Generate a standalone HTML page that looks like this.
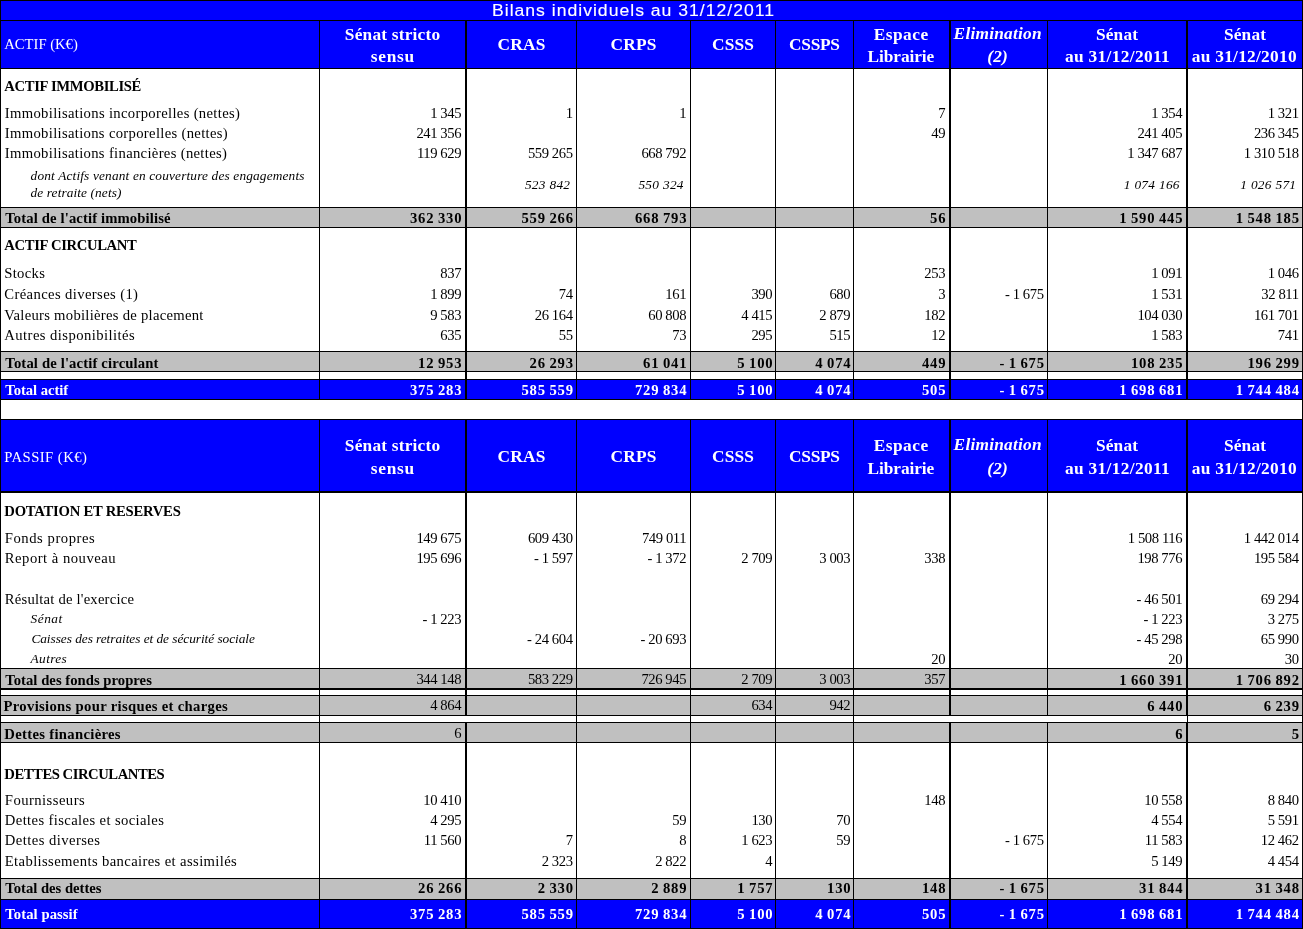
<!DOCTYPE html><html><head><meta charset="utf-8"><title>Bilans individuels au 31/12/2011</title><style>
html,body{margin:0;padding:0;background:#fff}
#p{position:relative;width:1303px;height:929px;overflow:hidden;will-change:transform}
#p div{position:absolute}
#p span{position:absolute;white-space:pre;line-height:1;color:#000}
.n{font-family:"Liberation Serif",serif;font-size:14.67px;font-weight:normal;font-style:normal;letter-spacing:-0.42px}
.nb{font-family:"Liberation Serif",serif;font-size:14.67px;font-weight:bold;font-style:normal;letter-spacing:0.8px;word-spacing:-0.9px}
.ni{font-family:"Liberation Serif",serif;font-size:13.33px;font-weight:normal;font-style:italic;letter-spacing:0.3px}
.l{font-family:"Liberation Serif",serif;font-size:14.67px;font-weight:normal;font-style:normal;letter-spacing:0.29px}
.li{font-family:"Liberation Serif",serif;font-size:13.33px;font-weight:normal;font-style:italic;letter-spacing:0.15px}
.b{font-family:"Liberation Serif",serif;font-size:14.67px;font-weight:bold;font-style:normal;letter-spacing:0.1px}
.sec{font-family:"Liberation Serif",serif;font-size:14.67px;font-weight:bold;font-style:normal;letter-spacing:0.0px}
.h{font-family:"Liberation Serif",serif;font-size:17.33px;font-weight:bold;font-style:normal;letter-spacing:0.2px}
.hi{font-family:"Liberation Serif",serif;font-size:17.33px;font-weight:bold;font-style:italic;letter-spacing:0.2px}
.hl{font-family:"Liberation Serif",serif;font-size:14.67px;font-weight:normal;font-style:normal;letter-spacing:0.0px}
.title{font-family:"Liberation Sans",sans-serif;font-size:16.0px;font-weight:normal;font-style:normal;letter-spacing:0.0px;-webkit-text-stroke:0.12px currentColor}
</style></head><body><div id="p">
<div style="left:0px;top:0px;width:1303px;height:21px;background:#0000ff"></div>
<div style="left:0px;top:20px;width:1303px;height:49px;background:#0000ff"></div>
<div style="left:0px;top:207px;width:1303px;height:21px;background:#c0c0c0"></div>
<div style="left:0px;top:351px;width:1303px;height:21px;background:#c0c0c0"></div>
<div style="left:0px;top:379px;width:1303px;height:21px;background:#0000ff"></div>
<div style="left:0px;top:419px;width:1303px;height:74px;background:#0000ff"></div>
<div style="left:0px;top:668px;width:1303px;height:22px;background:#c0c0c0"></div>
<div style="left:0px;top:695px;width:1303px;height:21px;background:#c0c0c0"></div>
<div style="left:0px;top:722px;width:1303px;height:21px;background:#c0c0c0"></div>
<div style="left:0px;top:878px;width:1303px;height:22px;background:#c0c0c0"></div>
<div style="left:0px;top:899px;width:1303px;height:30px;background:#0000ff"></div>
<div style="left:0px;top:0px;width:1303px;height:1px;background:#000"></div>
<div style="left:0px;top:20px;width:1303px;height:1px;background:#000"></div>
<div style="left:0px;top:68px;width:1303px;height:1px;background:#000"></div>
<div style="left:0px;top:207px;width:1303px;height:1px;background:#000"></div>
<div style="left:0px;top:227px;width:1303px;height:1px;background:#000"></div>
<div style="left:0px;top:351px;width:1303px;height:1px;background:#000"></div>
<div style="left:0px;top:371px;width:1303px;height:1px;background:#000"></div>
<div style="left:0px;top:379px;width:1303px;height:1px;background:#000"></div>
<div style="left:0px;top:399px;width:1303px;height:1px;background:#000"></div>
<div style="left:0px;top:419px;width:1303px;height:1px;background:#000"></div>
<div style="left:0px;top:668px;width:1303px;height:1px;background:#000"></div>
<div style="left:0px;top:695px;width:1303px;height:1px;background:#000"></div>
<div style="left:0px;top:715px;width:1303px;height:1px;background:#000"></div>
<div style="left:0px;top:722px;width:1303px;height:1px;background:#000"></div>
<div style="left:0px;top:742px;width:1303px;height:1px;background:#000"></div>
<div style="left:0px;top:878px;width:1303px;height:1px;background:#000"></div>
<div style="left:0px;top:899px;width:1303px;height:1px;background:#000"></div>
<div style="left:0px;top:928px;width:1303px;height:1px;background:#000"></div>
<div style="left:0px;top:491px;width:1303px;height:2px;background:#000"></div>
<div style="left:0px;top:688px;width:1303px;height:2px;background:#000"></div>
<div style="left:0px;top:0px;width:1px;height:929px;background:#000"></div>
<div style="left:1302px;top:0px;width:1px;height:929px;background:#000"></div>
<div style="left:319px;top:20px;width:1px;height:380px;background:#000"></div>
<div style="left:319px;top:419px;width:1px;height:297px;background:#000"></div>
<div style="left:319px;top:722px;width:1px;height:207px;background:#000"></div>
<div style="left:465px;top:20px;width:2px;height:380px;background:#000"></div>
<div style="left:465px;top:419px;width:2px;height:297px;background:#000"></div>
<div style="left:465px;top:722px;width:2px;height:207px;background:#000"></div>
<div style="left:576px;top:20px;width:1px;height:380px;background:#000"></div>
<div style="left:576px;top:419px;width:1px;height:297px;background:#000"></div>
<div style="left:576px;top:722px;width:1px;height:207px;background:#000"></div>
<div style="left:690px;top:20px;width:1px;height:380px;background:#000"></div>
<div style="left:690px;top:419px;width:1px;height:297px;background:#000"></div>
<div style="left:690px;top:722px;width:1px;height:207px;background:#000"></div>
<div style="left:775px;top:20px;width:1px;height:380px;background:#000"></div>
<div style="left:775px;top:419px;width:1px;height:297px;background:#000"></div>
<div style="left:775px;top:722px;width:1px;height:207px;background:#000"></div>
<div style="left:853px;top:20px;width:1px;height:380px;background:#000"></div>
<div style="left:853px;top:419px;width:1px;height:297px;background:#000"></div>
<div style="left:853px;top:722px;width:1px;height:207px;background:#000"></div>
<div style="left:949px;top:20px;width:2px;height:380px;background:#000"></div>
<div style="left:949px;top:419px;width:2px;height:297px;background:#000"></div>
<div style="left:949px;top:722px;width:2px;height:207px;background:#000"></div>
<div style="left:1047px;top:20px;width:1px;height:380px;background:#000"></div>
<div style="left:1047px;top:419px;width:1px;height:297px;background:#000"></div>
<div style="left:1047px;top:722px;width:1px;height:207px;background:#000"></div>
<div style="left:1186px;top:20px;width:2px;height:380px;background:#000"></div>
<div style="left:1186px;top:419px;width:2px;height:297px;background:#000"></div>
<div style="left:1186px;top:722px;width:2px;height:207px;background:#000"></div>
<div style="left:319px;top:715px;width:1px;height:8px;background:#000"></div>
<div style="left:576px;top:715px;width:1px;height:8px;background:#000"></div>
<div style="left:690px;top:715px;width:1px;height:8px;background:#000"></div>
<div style="left:775px;top:715px;width:1px;height:8px;background:#000"></div>
<div style="left:853px;top:715px;width:1px;height:8px;background:#000"></div>
<div style="left:1187px;top:715px;width:1px;height:8px;background:#000"></div>
<span id="t0" class="title" style="top:3.06px;left:492.00px;transform-origin:0 50%;transform:scaleX(1.1);color:#fff;letter-spacing:0.905px;">Bilans individuels au 31/12/2011</span>
<span id="t1" class="hl" style="top:36.71px;left:4.30px;color:#fff;letter-spacing:-0.019px;">ACTIF (K€)</span>
<span id="t2" class="h" style="top:25.79px;left:392.60px;transform:translateX(-50%);color:#fff;">Sénat stricto</span>
<span id="t3" class="h" style="top:48.19px;left:392.85px;transform:translateX(-50%);color:#fff;letter-spacing:0.709px;">sensu</span>
<span id="t4" class="h" style="top:35.99px;left:521.60px;transform:translateX(-50%);color:#fff;">CRAS</span>
<span id="t5" class="h" style="top:35.99px;left:633.60px;transform:translateX(-50%);color:#fff;">CRPS</span>
<span id="t6" class="h" style="top:35.99px;left:733.10px;transform:translateX(-50%);color:#fff;">CSSS</span>
<span id="t7" class="h" style="top:35.99px;left:814.37px;transform:translateX(-50%);color:#fff;letter-spacing:-0.263px;">CSSPS</span>
<span id="t8" class="h" style="top:25.79px;left:901.15px;transform:translateX(-50%);color:#fff;letter-spacing:0.502px;">Espace</span>
<span id="t9" class="h" style="top:48.19px;left:900.85px;transform:translateX(-50%);color:#fff;letter-spacing:-0.099px;">Librairie</span>
<span id="t10" class="hi" style="top:24.79px;left:997.71px;transform:translateX(-50%);color:#fff;letter-spacing:0.225px;">Elimination</span>
<span id="t11" class="hi" style="top:48.19px;left:997.70px;transform:translateX(-50%);color:#fff;">(2)</span>
<span id="t12" class="h" style="top:25.79px;left:1117.10px;transform:translateX(-50%);color:#fff;">Sénat</span>
<span id="t13" class="h" style="top:48.19px;left:1117.47px;transform:translateX(-50%);color:#fff;letter-spacing:0.337px;">au 31/12/2011</span>
<span id="t14" class="h" style="top:25.79px;left:1245.10px;transform:translateX(-50%);color:#fff;">Sénat</span>
<span id="t15" class="h" style="top:48.19px;left:1244.33px;transform:translateX(-50%);color:#fff;letter-spacing:0.263px;">au 31/12/2010</span>
<span id="t16" class="hl" style="top:450.21px;left:4.30px;color:#fff;letter-spacing:0.449px;">PASSIF (K€)</span>
<span id="t17" class="h" style="top:437.49px;left:392.60px;transform:translateX(-50%);color:#fff;">Sénat stricto</span>
<span id="t18" class="h" style="top:460.49px;left:392.85px;transform:translateX(-50%);color:#fff;letter-spacing:0.709px;">sensu</span>
<span id="t19" class="h" style="top:448.29px;left:521.60px;transform:translateX(-50%);color:#fff;">CRAS</span>
<span id="t20" class="h" style="top:448.29px;left:633.60px;transform:translateX(-50%);color:#fff;">CRPS</span>
<span id="t21" class="h" style="top:448.29px;left:733.10px;transform:translateX(-50%);color:#fff;">CSSS</span>
<span id="t22" class="h" style="top:448.29px;left:814.37px;transform:translateX(-50%);color:#fff;letter-spacing:-0.263px;">CSSPS</span>
<span id="t23" class="h" style="top:437.49px;left:901.15px;transform:translateX(-50%);color:#fff;letter-spacing:0.502px;">Espace</span>
<span id="t24" class="h" style="top:460.49px;left:900.85px;transform:translateX(-50%);color:#fff;letter-spacing:-0.099px;">Librairie</span>
<span id="t25" class="hi" style="top:436.49px;left:997.71px;transform:translateX(-50%);color:#fff;letter-spacing:0.225px;">Elimination</span>
<span id="t26" class="hi" style="top:460.49px;left:997.70px;transform:translateX(-50%);color:#fff;">(2)</span>
<span id="t27" class="h" style="top:437.49px;left:1117.10px;transform:translateX(-50%);color:#fff;">Sénat</span>
<span id="t28" class="h" style="top:460.49px;left:1117.47px;transform:translateX(-50%);color:#fff;letter-spacing:0.337px;">au 31/12/2011</span>
<span id="t29" class="h" style="top:437.49px;left:1245.10px;transform:translateX(-50%);color:#fff;">Sénat</span>
<span id="t30" class="h" style="top:460.49px;left:1244.33px;transform:translateX(-50%);color:#fff;letter-spacing:0.263px;">au 31/12/2010</span>
<span id="t31" class="sec" style="top:78.51px;left:4.30px;letter-spacing:-0.356px;">ACTIF IMMOBILISÉ</span>
<span id="t32" class="l" style="top:105.71px;left:4.80px;letter-spacing:0.325px;">Immobilisations incorporelles (nettes)</span>
<span id="t33" class="n" style="top:105.71px;right:841.92px;">1 345</span>
<span id="t34" class="n" style="top:105.71px;right:730.42px;">1</span>
<span id="t35" class="n" style="top:105.71px;right:616.92px;">1</span>
<span id="t36" class="n" style="top:105.71px;right:357.92px;">7</span>
<span id="t37" class="n" style="top:105.71px;right:120.92px;">1 354</span>
<span id="t38" class="n" style="top:105.71px;right:4.42px;">1 321</span>
<span id="t39" class="l" style="top:125.71px;left:4.80px;letter-spacing:0.322px;">Immobilisations corporelles (nettes)</span>
<span id="t40" class="n" style="top:125.71px;right:841.92px;">241 356</span>
<span id="t41" class="n" style="top:125.71px;right:357.92px;">49</span>
<span id="t42" class="n" style="top:125.71px;right:120.92px;">241 405</span>
<span id="t43" class="n" style="top:125.71px;right:4.42px;">236 345</span>
<span id="t44" class="l" style="top:145.71px;left:4.80px;letter-spacing:0.322px;">Immobilisations financières (nettes)</span>
<span id="t45" class="n" style="top:145.71px;right:841.92px;">119 629</span>
<span id="t46" class="n" style="top:145.71px;right:730.42px;">559 265</span>
<span id="t47" class="n" style="top:145.71px;right:616.92px;">668 792</span>
<span id="t48" class="n" style="top:145.71px;right:120.92px;">1 347 687</span>
<span id="t49" class="n" style="top:145.71px;right:4.42px;">1 310 518</span>
<span id="t50" class="li" style="top:168.84px;left:30.60px;letter-spacing:0.157px;">dont Actifs venant en couverture des engagements</span>
<span id="t51" class="li" style="top:185.84px;left:30.60px;letter-spacing:0.103px;">de retraite (nets)</span>
<span id="t52" class="ni" style="top:177.84px;right:732.70px;">523 842</span>
<span id="t53" class="ni" style="top:177.84px;right:619.20px;">550 324</span>
<span id="t54" class="ni" style="top:177.84px;right:123.20px;">1 074 166</span>
<span id="t55" class="ni" style="top:177.84px;right:6.70px;">1 026 571</span>
<span id="t56" class="b" style="top:210.71px;left:5.30px;letter-spacing:0.129px;">Total de l'actif immobilisé</span>
<span id="t57" class="nb" style="top:210.71px;right:840.70px;">362 330</span>
<span id="t58" class="nb" style="top:210.71px;right:729.20px;">559 266</span>
<span id="t59" class="nb" style="top:210.71px;right:615.70px;">668 793</span>
<span id="t60" class="nb" style="top:210.71px;right:356.70px;">56</span>
<span id="t61" class="nb" style="top:210.71px;right:119.70px;">1 590 445</span>
<span id="t62" class="nb" style="top:210.71px;right:3.20px;">1 548 185</span>
<span id="t63" class="sec" style="top:237.71px;left:4.30px;letter-spacing:-0.353px;">ACTIF CIRCULANT</span>
<span id="t64" class="l" style="top:265.71px;left:4.30px;letter-spacing:0.299px;">Stocks</span>
<span id="t65" class="n" style="top:265.71px;right:841.92px;">837</span>
<span id="t66" class="n" style="top:265.71px;right:357.92px;">253</span>
<span id="t67" class="n" style="top:265.71px;right:120.92px;">1 091</span>
<span id="t68" class="n" style="top:265.71px;right:4.42px;">1 046</span>
<span id="t69" class="l" style="top:286.71px;left:4.30px;letter-spacing:0.376px;">Créances diverses (1)</span>
<span id="t70" class="n" style="top:286.71px;right:841.92px;">1 899</span>
<span id="t71" class="n" style="top:286.71px;right:730.42px;">74</span>
<span id="t72" class="n" style="top:286.71px;right:616.92px;">161</span>
<span id="t73" class="n" style="top:286.71px;right:530.82px;">390</span>
<span id="t74" class="n" style="top:286.71px;right:452.82px;">680</span>
<span id="t75" class="n" style="top:286.71px;right:357.92px;">3</span>
<span id="t76" class="n" style="top:286.71px;right:259.42px;">- 1 675</span>
<span id="t77" class="n" style="top:286.71px;right:120.92px;">1 531</span>
<span id="t78" class="n" style="top:286.71px;right:4.42px;">32 811</span>
<span id="t79" class="l" style="top:307.71px;left:4.30px;letter-spacing:0.275px;">Valeurs mobilières de placement</span>
<span id="t80" class="n" style="top:307.71px;right:841.92px;">9 583</span>
<span id="t81" class="n" style="top:307.71px;right:730.42px;">26 164</span>
<span id="t82" class="n" style="top:307.71px;right:616.92px;">60 808</span>
<span id="t83" class="n" style="top:307.71px;right:530.82px;">4 415</span>
<span id="t84" class="n" style="top:307.71px;right:452.82px;">2 879</span>
<span id="t85" class="n" style="top:307.71px;right:357.92px;">182</span>
<span id="t86" class="n" style="top:307.71px;right:120.92px;">104 030</span>
<span id="t87" class="n" style="top:307.71px;right:4.42px;">161 701</span>
<span id="t88" class="l" style="top:327.71px;left:4.30px;letter-spacing:0.437px;">Autres disponibilités</span>
<span id="t89" class="n" style="top:327.71px;right:841.92px;">635</span>
<span id="t90" class="n" style="top:327.71px;right:730.42px;">55</span>
<span id="t91" class="n" style="top:327.71px;right:616.92px;">73</span>
<span id="t92" class="n" style="top:327.71px;right:530.82px;">295</span>
<span id="t93" class="n" style="top:327.71px;right:452.82px;">515</span>
<span id="t94" class="n" style="top:327.71px;right:357.92px;">12</span>
<span id="t95" class="n" style="top:327.71px;right:120.92px;">1 583</span>
<span id="t96" class="n" style="top:327.71px;right:4.42px;">741</span>
<span id="t97" class="b" style="top:355.71px;left:5.30px;letter-spacing:0.151px;">Total de l'actif circulant</span>
<span id="t98" class="nb" style="top:355.71px;right:840.70px;">12 953</span>
<span id="t99" class="nb" style="top:355.71px;right:729.20px;">26 293</span>
<span id="t100" class="nb" style="top:355.71px;right:615.70px;">61 041</span>
<span id="t101" class="nb" style="top:355.71px;right:529.60px;">5 100</span>
<span id="t102" class="nb" style="top:355.71px;right:451.60px;">4 074</span>
<span id="t103" class="nb" style="top:355.71px;right:356.70px;">449</span>
<span id="t104" class="nb" style="top:355.71px;right:258.20px;">- 1 675</span>
<span id="t105" class="nb" style="top:355.71px;right:119.70px;">108 235</span>
<span id="t106" class="nb" style="top:355.71px;right:3.20px;">196 299</span>
<span id="t107" class="b" style="top:382.71px;left:5.30px;color:#fff;letter-spacing:-0.048px;">Total actif</span>
<span id="t108" class="nb" style="top:382.71px;right:840.70px;color:#fff;">375 283</span>
<span id="t109" class="nb" style="top:382.71px;right:729.20px;color:#fff;">585 559</span>
<span id="t110" class="nb" style="top:382.71px;right:615.70px;color:#fff;">729 834</span>
<span id="t111" class="nb" style="top:382.71px;right:529.60px;color:#fff;">5 100</span>
<span id="t112" class="nb" style="top:382.71px;right:451.60px;color:#fff;">4 074</span>
<span id="t113" class="nb" style="top:382.71px;right:356.70px;color:#fff;">505</span>
<span id="t114" class="nb" style="top:382.71px;right:258.20px;color:#fff;">- 1 675</span>
<span id="t115" class="nb" style="top:382.71px;right:119.70px;color:#fff;">1 698 681</span>
<span id="t116" class="nb" style="top:382.71px;right:3.20px;color:#fff;">1 744 484</span>
<span id="t117" class="sec" style="top:504.11px;left:4.30px;letter-spacing:-0.243px;">DOTATION ET RESERVES</span>
<span id="t118" class="l" style="top:530.71px;left:4.80px;letter-spacing:0.545px;">Fonds propres</span>
<span id="t119" class="n" style="top:530.71px;right:841.92px;">149 675</span>
<span id="t120" class="n" style="top:530.71px;right:730.42px;">609 430</span>
<span id="t121" class="n" style="top:530.71px;right:616.92px;">749 011</span>
<span id="t122" class="n" style="top:530.71px;right:120.92px;">1 508 116</span>
<span id="t123" class="n" style="top:530.71px;right:4.42px;">1 442 014</span>
<span id="t124" class="l" style="top:550.71px;left:4.80px;letter-spacing:0.493px;">Report à nouveau</span>
<span id="t125" class="n" style="top:550.71px;right:841.92px;">195 696</span>
<span id="t126" class="n" style="top:550.71px;right:730.42px;">- 1 597</span>
<span id="t127" class="n" style="top:550.71px;right:616.92px;">- 1 372</span>
<span id="t128" class="n" style="top:550.71px;right:530.82px;">2 709</span>
<span id="t129" class="n" style="top:550.71px;right:452.82px;">3 003</span>
<span id="t130" class="n" style="top:550.71px;right:357.92px;">338</span>
<span id="t131" class="n" style="top:550.71px;right:120.92px;">198 776</span>
<span id="t132" class="n" style="top:550.71px;right:4.42px;">195 584</span>
<span id="t133" class="l" style="top:591.71px;left:4.80px;letter-spacing:0.209px;">Résultat de l'exercice</span>
<span id="t134" class="n" style="top:591.71px;right:120.92px;">- 46 501</span>
<span id="t135" class="n" style="top:591.71px;right:4.42px;">69 294</span>
<span id="t136" class="li" style="top:611.84px;left:30.60px;letter-spacing:0.483px;">Sénat</span>
<span id="t137" class="n" style="top:611.71px;right:841.92px;">- 1 223</span>
<span id="t138" class="n" style="top:611.71px;right:120.92px;">- 1 223</span>
<span id="t139" class="n" style="top:611.71px;right:4.42px;">3 275</span>
<span id="t140" class="li" style="top:631.84px;left:31.40px;letter-spacing:-0.041px;">Caisses des retraites et de sécurité sociale</span>
<span id="t141" class="n" style="top:631.71px;right:730.42px;">- 24 604</span>
<span id="t142" class="n" style="top:631.71px;right:616.92px;">- 20 693</span>
<span id="t143" class="n" style="top:631.71px;right:120.92px;">- 45 298</span>
<span id="t144" class="n" style="top:631.71px;right:4.42px;">65 990</span>
<span id="t145" class="li" style="top:651.84px;left:30.60px;letter-spacing:0.378px;">Autres</span>
<span id="t146" class="n" style="top:651.71px;right:357.92px;">20</span>
<span id="t147" class="n" style="top:651.71px;right:120.92px;">20</span>
<span id="t148" class="n" style="top:651.71px;right:4.42px;">30</span>
<span id="t149" class="b" style="top:672.71px;left:5.30px;letter-spacing:0.028px;">Total des fonds propres</span>
<span id="t150" class="n" style="top:671.71px;right:841.92px;">344 148</span>
<span id="t151" class="n" style="top:671.71px;right:730.42px;">583 229</span>
<span id="t152" class="n" style="top:671.71px;right:616.92px;">726 945</span>
<span id="t153" class="n" style="top:671.71px;right:530.82px;">2 709</span>
<span id="t154" class="n" style="top:671.71px;right:452.82px;">3 003</span>
<span id="t155" class="n" style="top:671.71px;right:357.92px;">357</span>
<span id="t156" class="nb" style="top:672.71px;right:119.70px;">1 660 391</span>
<span id="t157" class="nb" style="top:672.71px;right:3.20px;">1 706 892</span>
<span id="t158" class="b" style="top:698.71px;left:3.50px;letter-spacing:0.321px;">Provisions pour risques et charges</span>
<span id="t159" class="n" style="top:697.71px;right:841.92px;">4 864</span>
<span id="t160" class="n" style="top:697.71px;right:530.82px;">634</span>
<span id="t161" class="n" style="top:697.71px;right:452.82px;">942</span>
<span id="t162" class="nb" style="top:698.71px;right:119.70px;">6 440</span>
<span id="t163" class="nb" style="top:698.71px;right:3.20px;">6 239</span>
<span id="t164" class="b" style="top:726.71px;left:4.30px;letter-spacing:0.319px;">Dettes financières</span>
<span id="t165" class="n" style="top:725.71px;right:841.92px;">6</span>
<span id="t166" class="nb" style="top:726.71px;right:119.70px;">6</span>
<span id="t167" class="nb" style="top:726.71px;right:3.20px;">5</span>
<span id="t168" class="sec" style="top:766.81px;left:4.30px;letter-spacing:-0.458px;">DETTES CIRCULANTES</span>
<span id="t169" class="l" style="top:792.71px;left:4.80px;letter-spacing:0.450px;">Fournisseurs</span>
<span id="t170" class="n" style="top:792.71px;right:841.92px;">10 410</span>
<span id="t171" class="n" style="top:792.71px;right:357.92px;">148</span>
<span id="t172" class="n" style="top:792.71px;right:120.92px;">10 558</span>
<span id="t173" class="n" style="top:792.71px;right:4.42px;">8 840</span>
<span id="t174" class="l" style="top:812.71px;left:4.80px;letter-spacing:0.375px;">Dettes fiscales et sociales</span>
<span id="t175" class="n" style="top:812.71px;right:841.92px;">4 295</span>
<span id="t176" class="n" style="top:812.71px;right:616.92px;">59</span>
<span id="t177" class="n" style="top:812.71px;right:530.82px;">130</span>
<span id="t178" class="n" style="top:812.71px;right:452.82px;">70</span>
<span id="t179" class="n" style="top:812.71px;right:120.92px;">4 554</span>
<span id="t180" class="n" style="top:812.71px;right:4.42px;">5 591</span>
<span id="t181" class="l" style="top:832.71px;left:4.80px;letter-spacing:0.433px;">Dettes diverses</span>
<span id="t182" class="n" style="top:832.71px;right:841.92px;">11 560</span>
<span id="t183" class="n" style="top:832.71px;right:730.42px;">7</span>
<span id="t184" class="n" style="top:832.71px;right:616.92px;">8</span>
<span id="t185" class="n" style="top:832.71px;right:530.82px;">1 623</span>
<span id="t186" class="n" style="top:832.71px;right:452.82px;">59</span>
<span id="t187" class="n" style="top:832.71px;right:259.42px;">- 1 675</span>
<span id="t188" class="n" style="top:832.71px;right:120.92px;">11 583</span>
<span id="t189" class="n" style="top:832.71px;right:4.42px;">12 462</span>
<span id="t190" class="l" style="top:853.71px;left:4.80px;letter-spacing:0.374px;">Etablissements bancaires et assimilés</span>
<span id="t191" class="n" style="top:853.71px;right:730.42px;">2 323</span>
<span id="t192" class="n" style="top:853.71px;right:616.92px;">2 822</span>
<span id="t193" class="n" style="top:853.71px;right:530.82px;">4</span>
<span id="t194" class="n" style="top:853.71px;right:120.92px;">5 149</span>
<span id="t195" class="n" style="top:853.71px;right:4.42px;">4 454</span>
<span id="t196" class="b" style="top:881.21px;left:5.30px;letter-spacing:-0.012px;">Total des dettes</span>
<span id="t197" class="nb" style="top:881.21px;right:840.70px;">26 266</span>
<span id="t198" class="nb" style="top:881.21px;right:729.20px;">2 330</span>
<span id="t199" class="nb" style="top:881.21px;right:615.70px;">2 889</span>
<span id="t200" class="nb" style="top:881.21px;right:529.60px;">1 757</span>
<span id="t201" class="nb" style="top:881.21px;right:451.60px;">130</span>
<span id="t202" class="nb" style="top:881.21px;right:356.70px;">148</span>
<span id="t203" class="nb" style="top:881.21px;right:258.20px;">- 1 675</span>
<span id="t204" class="nb" style="top:881.21px;right:119.70px;">31 844</span>
<span id="t205" class="nb" style="top:881.21px;right:3.20px;">31 348</span>
<span id="t206" class="b" style="top:906.71px;left:5.30px;color:#fff;letter-spacing:0.073px;">Total passif</span>
<span id="t207" class="nb" style="top:906.71px;right:840.70px;color:#fff;">375 283</span>
<span id="t208" class="nb" style="top:906.71px;right:729.20px;color:#fff;">585 559</span>
<span id="t209" class="nb" style="top:906.71px;right:615.70px;color:#fff;">729 834</span>
<span id="t210" class="nb" style="top:906.71px;right:529.60px;color:#fff;">5 100</span>
<span id="t211" class="nb" style="top:906.71px;right:451.60px;color:#fff;">4 074</span>
<span id="t212" class="nb" style="top:906.71px;right:356.70px;color:#fff;">505</span>
<span id="t213" class="nb" style="top:906.71px;right:258.20px;color:#fff;">- 1 675</span>
<span id="t214" class="nb" style="top:906.71px;right:119.70px;color:#fff;">1 698 681</span>
<span id="t215" class="nb" style="top:906.71px;right:3.20px;color:#fff;">1 744 484</span>
</div></body></html>
